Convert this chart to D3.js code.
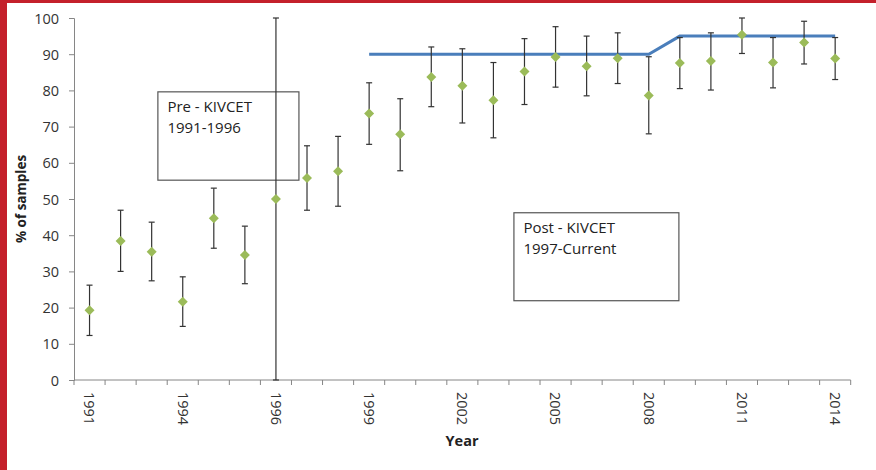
<!DOCTYPE html>
<html>
<head>
<meta charset="utf-8">
<script src="https://cdn.jsdelivr.net/npm/d3@7"></script>
<style>
  html, body { margin: 0; padding: 0; background: #fff; }
  svg { display: block; }
  text { font-family: "Open Sans", Lato, sans-serif; }
</style>
</head>
<body>
<svg id="chart" width="876" height="470"></svg>
<script>
// ---- data ----
const categories = ["1991","1992","1993","1994","1995","1995b","1996","1997","1998","1999","2000","2001","2002","2003","2004","2005","2006","2007","2008","2009","2010","2011","2012","2013","2014"];
const tickLabels = ["1991","1994","1996","1999","2002","2005","2008","2011","2014"];
const tickIndex = [0,3,6,9,12,15,18,21,24];
const values   = [19.3,38.4,35.4,21.6,44.7,34.5,50.0,55.8,57.7,73.6,67.9,83.7,81.3,77.3,85.2,89.2,86.7,88.9,78.6,87.6,88.1,95.4,87.7,93.2,88.8];
const errHigh  = [26.2,46.9,43.6,28.5,53.0,42.5,100, 64.7,67.3,82.1,77.7,92.0,91.5,87.7,94.3,97.6,95.0,95.9,89.3,94.6,95.9,100, 94.6,99.1,94.6];
const errLow   = [12.3,30.0,27.4,14.8,36.4,26.6,0,   46.9,48.0,65.1,57.8,75.5,71.0,66.9,76.1,80.9,78.5,81.9,68.0,80.5,80.1,90.2,80.7,87.3,83.0];
const targetIdx = [9,10,11,12,13,14,15,16,17,18,19,20,21,22,23,24];
const targetVal = [90,90,90,90,90,90,90,90,90,90,95,95,95,95,95,95];
const yTicks = [0,10,20,30,40,50,60,70,80,90,100];
const boxes = [
  {lines:["Pre - KIVCET","1991-1996"], x0:2.7, x1:7.24, y0:55.2, y1:79.6},
  {lines:["Post - KIVCET","1997-Current"], x0:14.16, x1:19.47, y0:21.9, y1:46.2}
];

// ---- chart ----
const svg = d3.select("#chart");
const W = 876, H = 470;
const mLeft = 74, mRight = 850.7, mTop = 18, mBottom = 380;

// red frame bands
svg.append("rect").attr("x",0).attr("y",0).attr("width",W).attr("height",3).attr("fill","#C4202B");
svg.append("rect").attr("x",0).attr("y",0).attr("width",7).attr("height",H).attr("fill","#C4202B");

const x = d3.scaleBand().domain(d3.range(categories.length)).range([mLeft, mRight]).padding(0);
const xl = d3.scaleLinear().domain([0, categories.length]).range([mLeft, mRight]);
const y = d3.scaleLinear().domain([0, 100]).range([mBottom, mTop]);
const cx = i => x(i) + x.bandwidth() / 2;

// y axis
const yAxis = d3.axisLeft(y).tickValues(yTicks).tickSize(5).tickPadding(10).tickFormat(d3.format("d"));
const gy = svg.append("g").attr("transform", `translate(${mLeft},0)`).call(yAxis);
gy.select(".domain").attr("stroke", "#868686");
gy.selectAll(".tick line").attr("stroke", "#868686");
gy.selectAll(".tick text").attr("fill", "#333").style("font-size", "14.5px").attr("dy","0.35em");

// x axis: ticks at category boundaries
const gx = svg.append("g").attr("transform", `translate(0,${mBottom})`);
gx.append("line").attr("x1", mLeft).attr("x2", mRight).attr("stroke", "#868686");
gx.selectAll("line.tk").data(d3.range(categories.length + 1)).enter().append("line")
  .attr("class","tk")
  .attr("x1", d => xl(d)).attr("x2", d => xl(d)).attr("y1", 0).attr("y2", 5)
  .attr("stroke", "#868686");
gx.selectAll("text.lbl").data(tickIndex).enter().append("text")
  .attr("class","lbl")
  .attr("transform", d => `translate(${cx(d)},12) rotate(90)`)
  .attr("dy", "0.35em")
  .attr("text-anchor", "start")
  .attr("fill", "#333")
  .style("font-size", "14.5px")
  .text((d, i) => tickLabels[i]);

// axis titles
svg.append("text").attr("transform", `translate(26,${(mTop+mBottom)/2}) rotate(-90)`)
  .attr("text-anchor","middle").style("font-size","13.5px").style("font-weight","bold").attr("fill","#222")
  .text("% of samples");
svg.append("text").attr("x", 462).attr("y", 446)
  .attr("text-anchor","middle").style("font-size","14.5px").style("font-weight","bold").attr("fill","#222")
  .text("Year");

// target line
const line = d3.line().x((d,i) => cx(targetIdx[i])).y(d => y(d));
svg.append("path").datum(targetVal).attr("d", line)
  .attr("fill","none").attr("stroke","#4A7EBB").attr("stroke-width",3);

// text boxes
boxes.forEach(b => {
  const g = svg.append("g");
  g.append("rect").attr("x", xl(b.x0)).attr("y", y(b.y1))
    .attr("width", xl(b.x1) - xl(b.x0)).attr("height", y(b.y0) - y(b.y1))
    .attr("fill","none").attr("stroke","#555").attr("stroke-width",1.2);
  b.lines.forEach((t, k) => {
    g.append("text").attr("x", xl(b.x0) + 9.5).attr("y", y(b.y1) + 20.5 + k*20.5)
      .style("font-size","15px").attr("fill","#222").text(t);
  });
});

// error bars
const eb = svg.append("g").attr("stroke","#333").attr("stroke-width",1.2);
values.forEach((v, i) => {
  const xc = cx(i);
  eb.append("line").attr("x1",xc).attr("x2",xc).attr("y1",y(errLow[i])).attr("y2",y(errHigh[i]));
  eb.append("line").attr("x1",xc-3).attr("x2",xc+3).attr("y1",y(errLow[i])).attr("y2",y(errLow[i]));
  eb.append("line").attr("x1",xc-3).attr("x2",xc+3).attr("y1",y(errHigh[i])).attr("y2",y(errHigh[i]));
});

// diamonds
svg.append("g").selectAll("path").data(values).enter().append("path")
  .attr("d", d3.symbol().type(d3.symbolSquare).size(50))
  .attr("transform", (d,i) => `translate(${cx(i)},${y(d)}) rotate(45)`)
  .attr("fill", "#9BBB59");
</script>
</body>
</html>
